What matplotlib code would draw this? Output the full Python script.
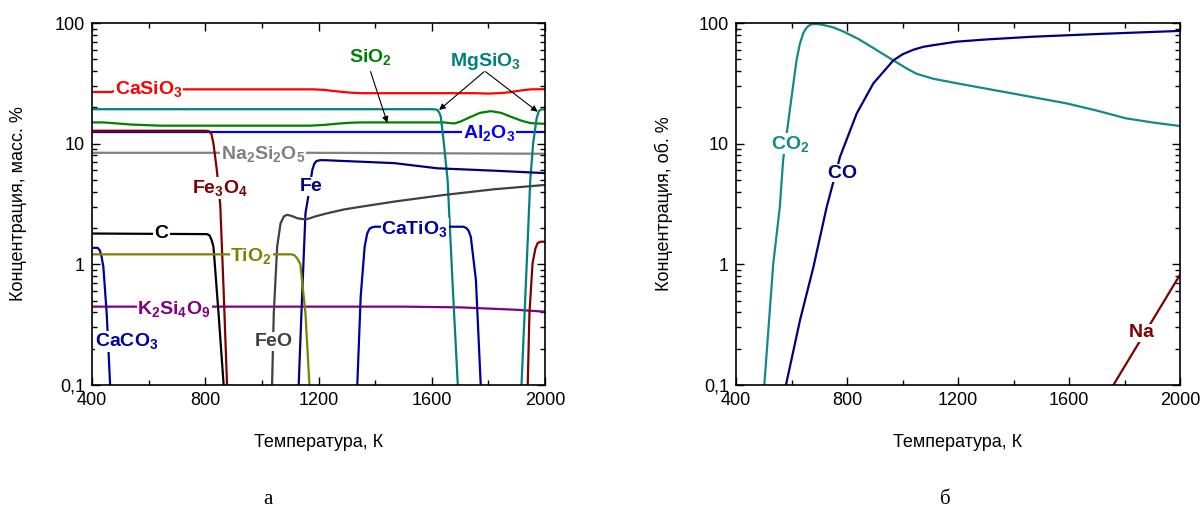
import numpy as np
import matplotlib
matplotlib.use('Agg')
import matplotlib.pyplot as plt
from matplotlib.ticker import FixedLocator, FixedFormatter, MultipleLocator, LogLocator, NullFormatter

plt.rcParams['font.family'] = ['Liberation Sans', 'DejaVu Sans']
plt.rcParams['mathtext.fontset'] = 'custom'
plt.rcParams['mathtext.rm'] = 'Liberation Sans'
plt.rcParams['mathtext.bf'] = 'Liberation Sans:bold'
plt.rcParams['mathtext.it'] = 'Liberation Sans:italic'

# ---------------- panel (a): condensed phases, mass % ----------------
T_CaSiO3 = [400, 470, 490, 700, 1000, 1180, 1220, 1260, 1310, 1350, 1600, 1750, 1800, 1850, 1880, 1920, 1950, 2000]
v_CaSiO3 = [26.8, 26.8, 28.2, 28.2, 28.2, 28.2, 27.9, 27.2, 26.5, 26.2, 26.2, 26.2, 26.0, 26.3, 26.8, 27.7, 28.2, 28.3]

T_MgSiO3_a = [400, 1000, 1600, 1612, 1620, 1627, 1632, 1643, 1656, 1673, 1692]
v_MgSiO3_a = [19.3, 19.3, 19.3, 19.25, 19.0, 18.0, 16.7, 10.0, 5.0, 0.74, 0.1]
T_MgSiO3_b = [1917, 1933, 1948, 1958, 1970, 1978, 1986, 2000]
v_MgSiO3_b = [0.1, 0.74, 5.0, 10.0, 16.0, 18.6, 19.2, 19.3]

T_SiO2 = [400, 440, 490, 540, 640, 1000, 1170, 1220, 1260, 1310, 1349, 1500, 1644, 1665, 1680, 1700, 1726, 1770, 1809, 1845, 1880, 1920, 1950, 2000]
v_SiO2 = [15.0, 15.0, 14.7, 14.4, 14.1, 14.1, 14.1, 14.3, 14.6, 14.9, 15.0, 15.0, 15.0, 14.8, 14.7, 15.2, 16.2, 18.0, 18.6, 18.0, 16.7, 15.4, 14.8, 14.6]

T_Al2O3 = [400, 1200, 2000]
v_Al2O3 = [12.6, 12.6, 12.6]

T_Fe3O4_a = [400, 800, 808, 815, 822, 829, 841, 853, 865, 877]
v_Fe3O4_a = [12.8, 12.8, 12.75, 12.6, 12.0, 10.0, 6.0, 3.1, 0.6, 0.1]
T_Fe3O4_b = [1939, 1945, 1956, 1966, 1974, 1985, 2000]
v_Fe3O4_b = [0.1, 0.39, 1.02, 1.35, 1.5, 1.54, 1.54]

T_Na2Si2O5 = [400, 1200, 2000]
v_Na2Si2O5 = [8.4, 8.4, 8.25]

T_Fe = [1130, 1142, 1154, 1166, 1178, 1185, 1192, 1205, 1219, 1467, 1620, 1821, 2000]
v_Fe = [0.1, 0.54, 2.65, 3.9, 6.05, 6.8, 7.15, 7.3, 7.3, 6.9, 6.25, 5.97, 5.7]

T_FeO = [1036, 1042, 1054, 1066, 1078, 1089, 1105, 1125, 1145, 1160, 1190, 1231, 1290, 1349, 1467, 1644, 1821, 2000]
v_FeO = [0.1, 0.39, 1.40, 2.19, 2.5, 2.57, 2.52, 2.41, 2.37, 2.37, 2.5, 2.65, 2.85, 3.0, 3.31, 3.76, 4.19, 4.55]

T_CaTiO3 = [1337, 1349, 1363, 1372, 1380, 1390, 1400, 1550, 1712, 1722, 1730, 1738, 1756, 1773]
v_CaTiO3 = [0.1, 0.54, 1.4, 1.8, 1.97, 2.03, 2.05, 2.05, 2.05, 2.0, 1.9, 1.69, 0.74, 0.1]

T_C = [400, 806, 815, 822, 829, 847, 865]
v_C = [1.8, 1.78, 1.74, 1.6, 1.4, 0.39, 0.1]

T_CaCO3 = [400, 420, 428, 434, 440, 452, 464]
v_CaCO3 = [1.37, 1.37, 1.3, 1.15, 0.96, 0.39, 0.1]

T_TiO2 = [400, 1105, 1115, 1125, 1136, 1154, 1168]
v_TiO2 = [1.21, 1.21, 1.19, 1.12, 1.0, 0.39, 0.1]

T_K2Si4O9 = [400, 1000, 1500, 1700, 1800, 1900, 2000]
v_K2Si4O9 = [0.446, 0.446, 0.446, 0.44, 0.43, 0.42, 0.405]

# ---------------- panel (b): gas phase, vol % ----------------
T_CO2 = [502, 534, 558, 570, 594, 618, 630, 642, 652, 662, 672, 682, 695, 710, 730, 750, 787, 840, 895, 967, 1015, 1050, 1111, 1194, 1399, 1590, 1700, 1806, 1900, 2000]
v_CO2 = [0.1, 1.0, 3.0, 7.4, 19, 49, 67, 82, 90, 95, 97.5, 98, 97.8, 96.8, 94.5, 92, 85, 74, 62, 49, 42, 38, 34.5, 31.7, 26, 21.6, 18.8, 16.2, 15.0, 14.0]

T_CO = [580, 631, 679, 727, 775, 835, 895, 967, 1000, 1039, 1075, 1111, 1194, 1300, 1471, 1700, 2000]
v_CO = [0.1, 0.347, 0.95, 3.0, 7.8, 17.8, 31.6, 49, 55, 60, 63.5, 65.5, 70, 73, 77, 81, 86]

T_Na = [1760, 2000]
v_Na = [0.1, 0.82]

x_ticks = [400, 800, 1200, 1600, 2000]
y_ticks = [0.1, 1, 10, 100]
y_ticklabels = ['0,1', '1', '10', '100']

fig = plt.figure(figsize=(12, 5.16), dpi=100)
axA = fig.add_axes([92/1200, 1-385/516, (545-92)/1200, (385-23)/516])
axB = fig.add_axes([736/1200, 1-385/516, (1180-736)/1200, (385-23)/516])

LW = 1.6
c = dict(CaSiO3='#ff0000', MgSiO3='#008080', SiO2='#008000', Al2O3='#0000ff',
         Fe3O4='#800000', Na2Si2O5='#808080', Fe='#000080', FeO='#404040',
         CaTiO3='#0000a0', C='#000000', CaCO3='#0000a0', TiO2='#808000',
         K2Si4O9='#800080', CO2='#13898a', CO='#000080', Na='#800000')

ax = axA
ax.plot(T_Al2O3, v_Al2O3, color=c['Al2O3'], lw=LW)
ax.plot(T_Na2Si2O5, v_Na2Si2O5, color=c['Na2Si2O5'], lw=LW)
ax.plot(T_K2Si4O9, v_K2Si4O9, color=c['K2Si4O9'], lw=LW)
ax.plot(T_CaSiO3, v_CaSiO3, color=c['CaSiO3'], lw=LW)
ax.plot(T_SiO2, v_SiO2, color=c['SiO2'], lw=LW)
ax.plot(T_MgSiO3_a, v_MgSiO3_a, color=c['MgSiO3'], lw=LW)
ax.plot(T_MgSiO3_b, v_MgSiO3_b, color=c['MgSiO3'], lw=LW)
ax.plot(T_Fe3O4_a, v_Fe3O4_a, color=c['Fe3O4'], lw=LW)
ax.plot(T_Fe3O4_b, v_Fe3O4_b, color=c['Fe3O4'], lw=LW)
ax.plot(T_Fe, v_Fe, color=c['Fe'], lw=LW)
ax.plot(T_FeO, v_FeO, color=c['FeO'], lw=LW)
ax.plot(T_CaTiO3, v_CaTiO3, color=c['CaTiO3'], lw=LW)
ax.plot(T_C, v_C, color=c['C'], lw=LW)
ax.plot(T_CaCO3, v_CaCO3, color=c['CaCO3'], lw=LW)
ax.plot(T_TiO2, v_TiO2, color=c['TiO2'], lw=LW)

FS = 14
def lab(ax, x, y, s, col, bg=True):
    kw = dict(color=col, fontsize=FS, ha='center', va='center', zorder=6)
    if bg:
        kw['bbox'] = dict(facecolor='white', edgecolor='none', pad=0.6)
    ax.text(x, y, s, **kw)

lab(axA, 600, 28.3, r'$\mathbf{CaSiO_3}$', c['CaSiO3'])
lab(axA, 1384, 52, r'$\mathbf{SiO_2}$', c['SiO2'], bg=False)
lab(axA, 1791, 48, r'$\mathbf{MgSiO_3}$', c['MgSiO3'], bg=False)
lab(axA, 1802, 12.3, r'$\mathbf{Al_2O_3}$', c['Al2O3'])
lab(axA, 1005, 8.2, r'$\mathbf{Na_2Si_2O_5}$', c['Na2Si2O5'])
lab(axA, 853, 4.3, r'$\mathbf{Fe_3O_4}$', c['Fe3O4'])
lab(axA, 1172, 4.4, r'$\mathbf{Fe}$', c['Fe'])
lab(axA, 646, 1.8, r'$\mathbf{C}$', c['C'])
lab(axA, 962, 1.18, r'$\mathbf{TiO_2}$', c['TiO2'])
lab(axA, 1540, 1.97, r'$\mathbf{CaTiO_3}$', c['CaTiO3'])
lab(axA, 690, 0.43, r'$\mathbf{K_2Si_4O_9}$', c['K2Si4O9'])
lab(axA, 524, 0.23, r'$\mathbf{CaCO_3}$', c['CaCO3'])
lab(axA, 1041, 0.23, r'$\mathbf{FeO}$', c['FeO'])

arw = dict(arrowstyle='-|>', color='black', lw=0.8, mutation_scale=9, shrinkA=0, shrinkB=0)
axA.annotate('', xy=(1443, 14.9), xytext=(1384, 39.5), arrowprops=arw)
axA.annotate('', xy=(1626, 19.0), xytext=(1785, 39.5), arrowprops=arw)
axA.annotate('', xy=(1974, 18.4), xytext=(1790, 39.5), arrowprops=arw)

ax = axB
ax.plot(T_CO2, v_CO2, color=c['CO2'], lw=LW)
ax.plot(T_CO, v_CO, color=c['CO'], lw=LW)
ax.plot(T_Na, v_Na, color=c['Na'], lw=LW)
lab(axB, 595, 10, r'$\mathbf{CO_2}$', c['CO2'])
lab(axB, 781, 5.7, r'$\mathbf{CO}$', c['CO'])
lab(axB, 1862, 0.27, r'$\mathbf{Na}$', c['Na'])

for ax in (axA, axB):
    ax.set_xlim(400, 2000)
    ax.set_yscale('log')
    ax.set_ylim(0.1, 100)
    ax.xaxis.set_major_locator(FixedLocator(x_ticks))
    ax.xaxis.set_minor_locator(MultipleLocator(200))
    ax.yaxis.set_major_locator(FixedLocator(y_ticks))
    ax.yaxis.set_major_formatter(FixedFormatter(y_ticklabels))
    ax.yaxis.set_minor_locator(LogLocator(base=10, subs=np.arange(2, 10)))
    ax.yaxis.set_minor_formatter(NullFormatter())
    ax.tick_params(which='both', direction='in', top=True, right=True, labelsize=13, width=1.0)
    ax.tick_params(which='major', length=6, pad=5)
    ax.tick_params(which='minor', length=3.5)
    for sp in ax.spines.values():
        sp.set_linewidth(1.2)
    ax.set_xlabel('Температура, К', fontsize=13)
    ax.xaxis.set_label_coords(0.5, -0.135)

axA.set_ylabel('Концентрация, масс. %', fontsize=13)
axA.yaxis.set_label_coords(-0.143, 0.5)
axB.set_ylabel('Концентрация, об. %', fontsize=13)
axB.yaxis.set_label_coords(-0.142, 0.5)

fig.text(268/1200, 1-500/516, 'а', fontsize=15, family=['Liberation Serif', 'DejaVu Serif'], ha='center', va='center')
fig.text(945/1200, 1-500/516, 'б', fontsize=15, family=['Liberation Serif', 'DejaVu Serif'], ha='center', va='center')

fig.savefig('out.png', dpi=100)
